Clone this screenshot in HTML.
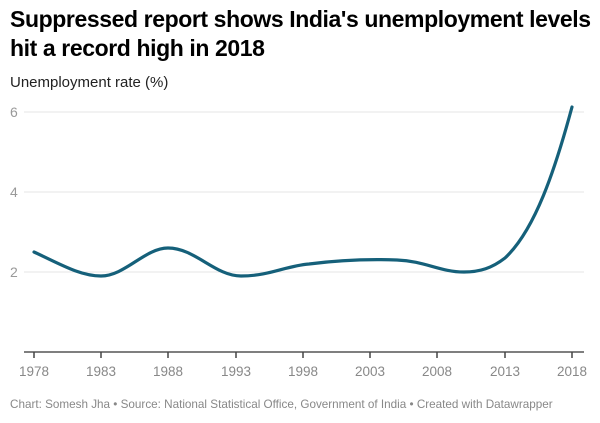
<!DOCTYPE html>
<html><head><meta charset="utf-8"><style>
body{margin:0;background:#fff;width:600px;height:423px;overflow:hidden;font-family:"Liberation Sans",sans-serif}
.t{position:absolute;left:10px;top:5px;font-size:23px;font-weight:bold;line-height:29px;color:#000;letter-spacing:-0.4px}
.s{position:absolute;left:10px;top:74px;font-size:15px;color:#222}
.f{position:absolute;left:10px;top:398px;font-size:11.7px;color:#888}
</style></head><body>
<div class="t">Suppressed report shows India's unemployment levels<br>hit a record high in 2018</div>
<div class="s">Unemployment rate (%)</div>
<svg width="600" height="423" style="position:absolute;left:0;top:0">
<g stroke="#e6e6e6" stroke-width="1">
<line x1="24" x2="584" y1="112" y2="112"/><line x1="24" x2="584" y1="192" y2="192"/><line x1="24" x2="584" y1="272" y2="272"/>
</g>
<g fill="#999" font-size="14" font-family="Liberation Sans">
<text x="10" y="117">6</text><text x="10" y="197">4</text><text x="10" y="277">2</text>
</g>
<line x1="24" x2="584" y1="352" y2="352" stroke="#555" stroke-width="1.5"/>
<g stroke="#444" stroke-width="1.5">
<line x1="34" x2="34" y1="352" y2="358"/><line x1="101" x2="101" y1="352" y2="358"/><line x1="168" x2="168" y1="352" y2="358"/><line x1="236" x2="236" y1="352" y2="358"/><line x1="303" x2="303" y1="352" y2="358"/><line x1="370" x2="370" y1="352" y2="358"/><line x1="437" x2="437" y1="352" y2="358"/><line x1="505" x2="505" y1="352" y2="358"/><line x1="572" x2="572" y1="352" y2="358"/>
</g>
<g fill="#888" font-size="13.5" font-family="Liberation Sans" text-anchor="middle">
<text x="34" y="376">1978</text><text x="101" y="376">1983</text><text x="168" y="376">1988</text><text x="236" y="376">1993</text><text x="303" y="376">1998</text><text x="370" y="376">2003</text><text x="437" y="376">2008</text><text x="505" y="376">2013</text><text x="572" y="376">2018</text>
</g>
<path d="M34,252 C60,264 80,276 101,276 C125,276 145,248 168,248 C195,248 215,276 241,276 C270,276 285,266 309,264 C340,260 370,259 397,260 C425,261 440,272 464,272 C480,272 492,268 505,258 C535,230 555,170 572,107" fill="none" stroke="#15607a" stroke-width="3.2" stroke-linecap="round"/>
</svg>
<div class="f">Chart: Somesh Jha • Source: National Statistical Office, Government of India • Created with Datawrapper</div>
</body></html>
